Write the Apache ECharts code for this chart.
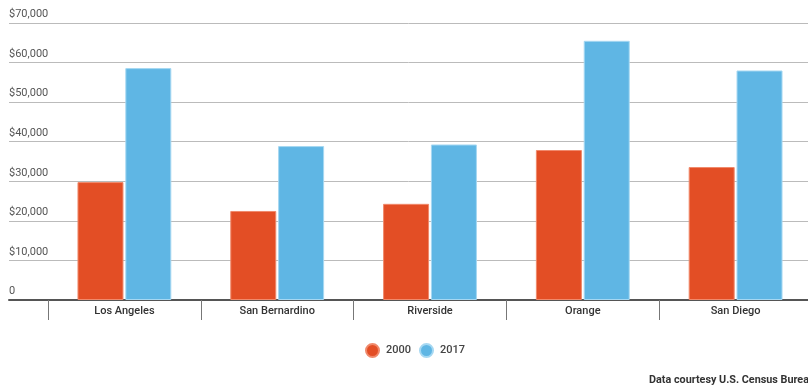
<!DOCTYPE html>
<html><head><meta charset="utf-8">
<script src="https://cdn.jsdelivr.net/npm/echarts@6/dist/echarts.min.js"></script>
<style>html,body{margin:0;padding:0;background:#fff;overflow:hidden}#c{width:812px;height:387px}</style>
</head><body><div id="c"></div>
<script>
const categories = ['Los Angeles', 'San Bernardino', 'Riverside', 'Orange', 'San Diego'];
const values2000 = [29800, 22500, 24300, 37900, 33600];
const values2017 = [58600, 38900, 39300, 65500, 58000];
const seriesNames = ['2000', '2017'];
const yTicks = { min: 0, max: 70000, interval: 10000 };
const source = 'Data courtesy U.S. Census Bureau';

const chart = echarts.init(document.getElementById('c'));
const fmt = v => v === 0 ? '0' : '$' + v.toLocaleString('en-US');
chart.setOption({
  animation: false,
  textStyle: { fontFamily: 'Roboto' },
  grid: [
    { left: 9, right: 4, top: 23, bottom: 87 },
    { left: 48, right: 0, top: 23, bottom: 87 }
  ],
  xAxis: [
    { gridIndex: 0, type: 'value', min: 0, max: 1, show: true,
      axisLine: { show: true, onZero: false, lineStyle: { color: '#555', width: 2 } },
      axisTick: { show: false }, axisLabel: { show: false }, splitLine: { show: false } },
    { gridIndex: 1, type: 'category', data: categories,
      axisLine: { show: false },
      axisTick: { show: true, length: 20, lineStyle: { color: '#777' } },
      axisLabel: { color: '#333', fontSize: 11, fontWeight: 500, margin: 6 } }
  ],
  yAxis: [
    { gridIndex: 0, type: 'value', min: yTicks.min, max: yTicks.max, interval: yTicks.interval,
      axisLine: { show: false }, axisTick: { show: false },
      splitLine: { lineStyle: { color: '#bbb', width: 1 } },
      axisLabel: { inside: true, verticalAlign: 'bottom', margin: 0, padding: [0, 0, 3, 0],
        color: '#555', fontSize: 11, formatter: fmt } },
    { gridIndex: 1, type: 'value', min: yTicks.min, max: yTicks.max, interval: yTicks.interval, show: false,
      splitLine: { show: false } }
  ],
  legend: {
    data: seriesNames, top: 338, left: 360, icon: 'circle', itemWidth: 13, itemHeight: 13, itemGap: 8,
    textStyle: { color: '#444', fontSize: 11, fontWeight: 500, padding: [0, 0, 0, 2] }
  },
  series: [
    { name: seriesNames[0], type: 'bar', xAxisIndex: 1, yAxisIndex: 1, data: values2000,
      barWidth: 46, barGap: '4%',
      itemStyle: { color: '#E34E25', borderColor: '#F08A6C', borderWidth: 1 } },
    { name: seriesNames[1], type: 'bar', xAxisIndex: 1, yAxisIndex: 1, data: values2017,
      barWidth: 46, barGap: '4%',
      itemStyle: { color: '#5FB6E4', borderColor: '#A6D8F2', borderWidth: 1 } }
  ],
  graphic: [
    { type: 'text', left: 649, top: 375,
      style: { text: source, fill: '#333', fontSize: 10.8, fontWeight: 'bold', fontFamily: 'Roboto' } }
  ]
});
</script></body></html>
